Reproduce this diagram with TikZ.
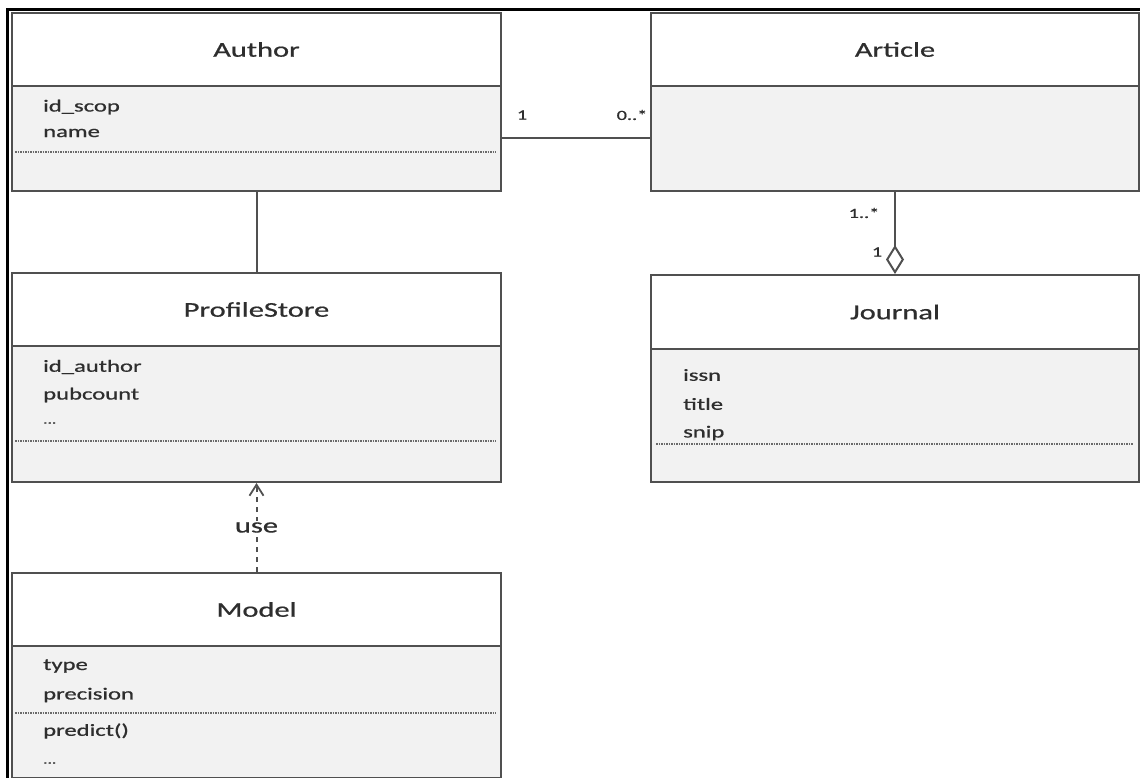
\documentclass[tikz,border=0pt]{standalone}
\usepackage{fontspec}
\setmainfont{Carlito}[FakeBold=0.6]
\usepackage{graphicx}
\usetikzlibrary{arrows.meta}

\definecolor{boxgrey}{HTML}{505050}
\definecolor{bodygrey}{HTML}{F2F2F2}
\definecolor{sepgrey}{HTML}{6A6A6A}
\definecolor{txtgrey}{HTML}{2E2E2E}

% wide lettering used throughout the class diagram
\newcommand{\wide}[1]{\scalebox{1.45}[1]{#1}}

\begin{document}
\begin{tikzpicture}[x=1pt,y=-1pt,
  boxline/.style={draw=boxgrey, line width=2pt},
  hdr/.style={boxline, fill=white, anchor=north west, inner sep=0pt,
              font=\fontsize{21}{24}\selectfont, text=txtgrey},
  bdy/.style={boxline, fill=bodygrey, anchor=north west, inner sep=0pt},
  attr/.style={anchor=west, inner sep=0pt, font=\fontsize{17}{20}\selectfont, text=txtgrey},
  sep/.style={draw=sepgrey, line width=1.2pt, dash pattern=on 1.5pt off 1pt},
  mult/.style={inner sep=0pt, font=\fontsize{14}{16}\selectfont, text=txtgrey},
  conn/.style={draw=boxgrey, line width=2pt},
  dep/.style={draw=boxgrey, line width=2pt, dash pattern=on 5pt off 5pt},
]
\useasboundingbox (0,0) rectangle (1140,778);

% outer frame
\draw[black, line width=3pt] (7.5,778) -- (7.5,9.5) -- (1140,9.5);

% Author
\node[bdy, minimum width=489pt, minimum height=105pt] (authorB) at (11,85) {};
\node[hdr, minimum width=489pt, minimum height=73pt] (authorH) at (11,12) {\wide{Author}};
\node[attr] (a1) at (43,107) {\wide{id\_scop}};
\node[attr] (a2) at (43,133) {\wide{name}};
\draw[sep] (15,152) -- (496,152);

% Article
\node[bdy, minimum width=488pt, minimum height=105pt] (articleB) at (650,85) {};
\node[hdr, minimum width=488pt, minimum height=73pt] (articleH) at (650,12) {\wide{Article}};

% ProfileStore
\node[bdy, minimum width=489pt, minimum height=136pt] (profileB) at (11,345) {};
\node[hdr, minimum width=489pt, minimum height=73pt] (profileH) at (11,272) {\wide{ProfileStore}};
\node[attr] (p1) at (43,367) {\wide{id\_author}};
\node[attr] (p2) at (43,395) {\wide{pubcount}};
\node[attr] (p3) at (43,423) {\wide{\fontsize{12}{14}\selectfont ...}};
\draw[sep] (15,441) -- (496,441);

% Journal
\node[bdy, minimum width=488pt, minimum height=133pt] (journalB) at (650,348) {};
\node[hdr, minimum width=488pt, minimum height=74pt] (journalH) at (650,274) {\wide{Journal}};
\node[attr] (j1) at (683,375) {\wide{issn}};
\node[attr] (j2) at (683,404) {\wide{title}};
\node[attr] (j3) at (683,433) {\wide{snip}};
\draw[sep] (656,444) -- (1133,444);

% Model
\node[bdy, minimum width=489pt, minimum height=132pt] (modelB) at (11,645) {};
\node[hdr, minimum width=489pt, minimum height=73pt] (modelH) at (11,572) {\wide{Model}};
\node[attr] (m1) at (43,666) {\wide{type}};
\node[attr] (m2) at (43,695) {\wide{precision}};
\draw[sep] (15,713) -- (496,713);
\node[attr] (m3) at (43,731) {\wide{predict()}};
\node[attr] (m4) at (43,763) {\wide{\fontsize{12}{14}\selectfont ...}};

% associations
\draw[conn] (authorB.east |- 0,138) -- (articleB.west |- 0,138);
\node[mult] (mA) at (522,115) {\wide{1}};
\node[mult] (mB) at (632,115) {\wide{0..*}};

\draw[conn] (authorB.south) -- (profileH.north);

\draw[conn, -{Diamond[open, width=18pt, length=29pt]}] (articleB.south) -- (journalH.north);
\node[mult] (mC) at (864,213) {\wide{1..*}};
\node[mult] (mD) at (877,252) {\wide{1}};

% dependency
\draw[dep, -{Straight Barb[length=11pt, width=14pt, line width=1.8pt]}]
  (modelH.north) -- node[fill=white, inner sep=1pt, font=\fontsize{21}{24}\selectfont, text=txtgrey] (use) {\wide{use}} (profileB.south);
\end{tikzpicture}
\end{document}
